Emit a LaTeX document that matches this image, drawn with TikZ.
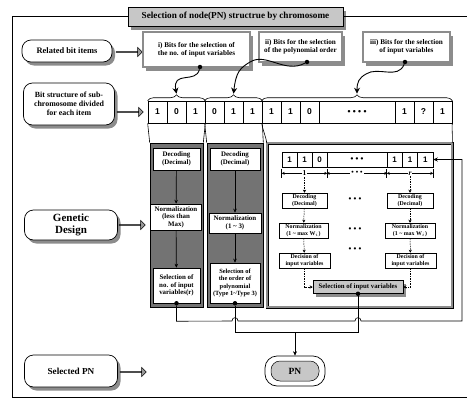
\documentclass[tikz,border=0pt]{standalone}
\usepackage{fontspec}
\setmainfont{Liberation Serif}
\setsansfont{Liberation Sans}
\usetikzlibrary{shapes.arrows,shadows,decorations.pathreplacing,arrows.meta,calc}

\newcommand{\tld}{\textasciitilde{}}

\tikzset{
  sz/.style 2 args={minimum width=#1pt, minimum height=#2pt, inner sep=0pt},
  shd/.style={drop shadow={shadow xshift=3pt, shadow yshift=-3.5pt, fill=black!45, opacity=1}},
  lbl/.style={draw, line width=0.7pt, rounded corners=9pt, fill=white, align=center, shd},
  harrow/.style={single arrow, draw, line width=0.5pt, fill=black!40, minimum height=26pt,
                 minimum width=9pt, single arrow head extend=2.5pt, inner sep=0pt},
  itembox/.style={draw, line width=0.5pt, double=black!45, double distance=1.4pt, fill=white,
                  align=center, font=\bfseries\fontsize{7.2}{8.2}\selectfont, shd},
  bit/.style={draw, line width=0.6pt, minimum width=19pt, minimum height=22pt, inner sep=0pt,
              font=\sffamily\bfseries\fontsize{8.5}{9}\selectfont},
  ibit/.style={draw, line width=0.6pt, minimum width=15pt, minimum height=15pt, inner sep=0pt,
               font=\sffamily\bfseries\fontsize{8}{9}\selectfont},
  darkp/.style={draw, line width=0.7pt, fill=black!55},
  litep/.style={draw, line width=0.5pt, double=black!45, double distance=2pt, fill=white},
  pbox/.style={draw, line width=0.5pt, fill=white, align=center, inner sep=0pt,
               font=\bfseries\fontsize{6.9}{7.6}\selectfont},
  sbox/.style={draw, line width=0.5pt, fill=white, align=center, inner sep=0pt,
               font=\bfseries\fontsize{5.9}{6.4}\selectfont},
  jdot/.style={circle, fill=black, inner sep=0pt, minimum size=4.5pt},
  flow/.style={line width=0.7pt, -{Stealth[length=4pt,width=3.5pt]}},
  dflow/.style={line width=0.5pt, dashed, dash pattern=on 1.5pt off 1pt, -{Stealth[length=3pt,width=3pt]}},
  bigtip/.style={line width=0.9pt, -{Stealth[length=6pt,width=6pt]}},
  wire/.style={line width=0.6pt},
}

\begin{document}
\begin{tikzpicture}[x=1pt, y=-1pt]
\useasboundingbox (0,0) rectangle (467,405);

% ---- title and outer frame ----
\node[draw, line width=0.6pt, fill=black!22, sz={215}{19}, shd,
      font=\bfseries\fontsize{9.2}{10}\selectfont] (title) at (235.5,16.5)
      {Selection of node(PN) structrue by chromosome};
\draw[wire] (title.west) -- (12,16.5) -- (12,397) -- (467,397);
\draw[wire] (title.east) -- (467,16.5);

% ---- row labels on the left ----
\node[lbl, sz={90}{22}, font=\bfseries\fontsize{8.4}{9}\selectfont] (rel) at (67,51) {Related bit items};
\node[lbl, sz={91}{42}, font=\bfseries\fontsize{7.9}{8.8}\selectfont] (bitl) at (69,104)
      {Bit structure of sub-\\chromosome divided\\for each item};
\node[lbl, sz={93}{30}, font=\bfseries\fontsize{11}{12.5}\selectfont] (gen) at (71,225) {Genetic\\Design};
\node[lbl, sz={93}{32}, font=\bfseries\fontsize{9.2}{10}\selectfont] (selpn) at (71,371) {Selected PN};

\node[harrow] (ar1) at (129,52) {};
\node[harrow] (ar2) at (130,112) {};
\node[harrow] (ar3) at (132,225) {};
\node[harrow] (ar4) at (133,372) {};

% ---- related bit items ----
\node[itembox, sz={107}{35}] (iti) at (196.5,49.5) {i) Bits for the selection of\\the no. of input variables};
\node[itembox, sz={83}{30}] (itii) at (300.5,47) {ii) Bits for the selection\\of the polynomial order};
\node[itembox, sz={87}{30}] (itiii) at (406.5,47) {iii) Bits for the selection\\of input variables};
\node[jdot] (da) at (200,67) {};
\node[jdot] (db) at (307,62) {};
\node[jdot] (dc) at (405,62) {};

% ---- chromosome bit string ----
\foreach \k/\xx/\bv in {1/157.5/1,2/176.5/0,3/195.5/1,4/214.5/0,5/233.5/1,6/252.5/1,7/271.5/1,8/290.5/1,9/309.5/0}
  \node[bit] (b\k) at (\xx,112) {\bv};
\node[bit, minimum width=76pt] (b10) at (357,112) {• • • •};
\node[bit] (b11) at (404.5,112) {1};
\node[bit] (b12) at (423.5,112) {?};
\node[bit] (b13) at (442.5,112) {1};

% braces grouping the bits
\draw[wire, decorate, decoration={brace, amplitude=6pt}] (b1.north west) -- (b3.north east);
\draw[wire, decorate, decoration={brace, amplitude=6pt}] (b4.north west) -- (b6.north east);
\draw[wire, decorate, decoration={brace, amplitude=6pt}] (b7.north west) -- (b13.north east);
\coordinate (ta) at ($(b2.north)+(0,-7)$);
\coordinate (tb) at ($(b5.north)+(0,-7)$);
\coordinate (tc) at ($(b10.north)+(0,-7)$);

% wavy pointers from the item boxes to the braces
\draw[bigtip] (da) .. controls (196,84) and (172,70) .. (ta);
\draw[bigtip] (db) .. controls (285,74) and (266,52) .. (250,62) .. controls (240,68) and (236,72) .. (tb);
\draw[bigtip] (dc) .. controls (398,80) and (378,66) .. (366,74) .. controls (359,78) and (357,82) .. (tc);

% ---- genetic design panels ----
\node[darkp, sz={53}{164}] (p1) at (176.5,225) {};
\node[darkp, sz={56}{164}] (p2) at (235,225) {};
\node[litep, sz={185}{164}] (p3) at (359.5,225) {};

% funnel lines from the bit groups to the panels
\draw[wire] (b1.south west) to[out=-85,in=95] (p1.north west);
\draw[wire] (b3.south east) to[out=-95,in=85] (p1.north east);
\draw[wire] (b4.south west) to[out=-85,in=95] (p2.north west);
\draw[wire] (b6.south east) to[out=-85,in=95] (p2.north east);
\draw[wire] (b7.south west) to[out=-80,in=100] (p3.north west);
\draw[wire] (b13.south east) to[out=-95,in=85] (p3.north east);

% panel 1: number of input variables
\node[pbox, sz={47}{22}] (dec1) at (176.5,159) {Decoding\\(Decimal)};
\node[pbox, sz={51}{26}] (nor1) at (176,217) {Normalization\\(less than\\Max)};
\node[pbox, sz={47}{35}] (sel1) at (176.5,285.5) {Selection of\\no. of input\\variables(r)};
\draw[flow] (dec1) -- (nor1);
\draw[flow] (nor1) -- (sel1);
\node[jdot] (s1d) at (sel1.south) {};

% panel 2: polynomial order
\node[pbox, sz={50}{22}] (dec2) at (235,159) {Decoding\\(Decimal)};
\node[pbox, sz={52}{20}] (nor2) at (235,223) {Normalization\\(1 \tld\ 3)};
\node[pbox, sz={50}{40}, font=\bfseries\fontsize{6.4}{7.3}\selectfont] (sel2) at (235,283)
      {Selection of\\the order of\\polynomial\\(Type 1\tld Type 3)};
\draw[flow] (dec2) -- (nor2);
\draw[flow] (nor2) -- (sel2);
\node[jdot] (s2d) at (sel2.south) {};

% panel 3: input variables
\node[ibit] (c1) at (289.5,159.5) {1};
\node[ibit] (c2) at (304.5,159.5) {1};
\node[ibit] (c3) at (319.5,159.5) {0};
\node[ibit, minimum width=60pt] (c4) at (357,159.5) {• • •};
\node[ibit, minimum width=15.33pt] (c5) at (394.7,159.5) {1};
\node[ibit, minimum width=15.33pt] (c6) at (410,159.5) {1};
\node[ibit, minimum width=15.33pt] (c7) at (425.3,159.5) {1};

\foreach \cc in {c1.south west, c3.south east, c5.south west, c7.south east}
  \draw[wire] ($(\cc)+(0,2)$) -- ++(0,9);
\draw[wire, <->, >={Stealth[length=3pt,width=3pt]}] ($(c1.south west)+(0,6)$) -- ($(c3.south east)+(0,6)$)
  node[midway, fill=white, inner sep=1pt, font=\bfseries\fontsize{7.5}{8}\selectfont] (n1) {1};
\draw[wire, <->, >={Stealth[length=3pt,width=3pt]}] ($(c4.south west)+(0,6)$) -- ($(c4.south east)+(0,6)$)
  node[midway, fill=white, inner sep=1pt, font=\sffamily\fontsize{7}{8}\selectfont] (nd) {• • •};
\draw[wire, <->, >={Stealth[length=3pt,width=3pt]}] ($(c5.south west)+(0,6)$) -- ($(c7.south east)+(0,6)$)
  node[midway, fill=white, inner sep=1pt, font=\bfseries\itshape\fontsize{7.5}{8}\selectfont] (nr) {r};

\node[sbox, sz={45}{15}] (dec3a) at (304.5,200.5) {Decoding\\(Decimal)};
\node[sbox, sz={46}{15}] (dec3b) at (410,200.5) {Decoding\\(Decimal)};
\node[sbox, sz={49}{15}] (nor3a) at (303.5,230.5) {Normalization\\(1 \tld\ max W$_i$)};
\node[sbox, sz={50}{15}] (nor3b) at (410,230.5) {Normalization\\(1 \tld\ max W$_i$)};
\node[sbox, sz={51}{15}] (dis3a) at (304.5,260.5) {Decision of\\input variables};
\node[sbox, sz={51}{15}] (dis3b) at (410.5,260.5) {Decision of\\input variables};
\node[sbox, sz={90}{13}, fill=black!22, shd, font=\bfseries\fontsize{6.8}{7.5}\selectfont] (selv) at (358,287)
      {Selection of input variables};

\foreach \yy in {200,230,250}
  \node[font=\sffamily\fontsize{8}{9}\selectfont] at (355,\yy) {• • •};

\draw[dflow] (n1) -- (dec3a);
\draw[dflow] (nr) -- (dec3b);
\draw[dflow] (dec3a) -- (nor3a);
\draw[dflow] (dec3b) -- (nor3b);
\draw[dflow] (nor3a) -- (dis3a);
\draw[dflow] (nor3b) -- (dis3b);
\draw[dflow] (dis3a.south) |- (selv.west);
\draw[dflow] (dis3b.south) |- (selv.east);
\node[jdot] (svd) at (selv.south) {};

% ---- outputs: feedback of r and the selected node ----
\coordinate (fbl) at ($(s1d)+(0,18)$);
\coordinate (fbr) at (462,321);
\draw[wire, -{Stealth[length=4.5pt,width=4pt]}] (s1d) -- (fbl) -- (232,321)
  .. controls (232,316.5) and (238,316.5) .. (238,321) -- (355,321)
  .. controls (355,316.5) and (361,316.5) .. (361,321) -- (fbr) |- (c7.east);

\node[draw, line width=0.7pt, rounded corners=12pt, fill=white, sz={60}{30}] (pn) at (295,371) {};
\node[draw, line width=0.5pt, rounded corners=9pt, fill=black!22, sz={48}{20},
      font=\bfseries\fontsize{9.5}{10}\selectfont] (pnin) at (pn.center) {PN};

\coordinate (j2) at (235,332);
\coordinate (j3) at (358,332);
\coordinate (jm) at (295,332);
\draw[wire] (s2d) -- (j2) -- (j3) -- (svd);
\draw[wire, -{Stealth[length=4.5pt,width=4pt]}] (jm) -- (pn.north);

\end{tikzpicture}
\end{document}
